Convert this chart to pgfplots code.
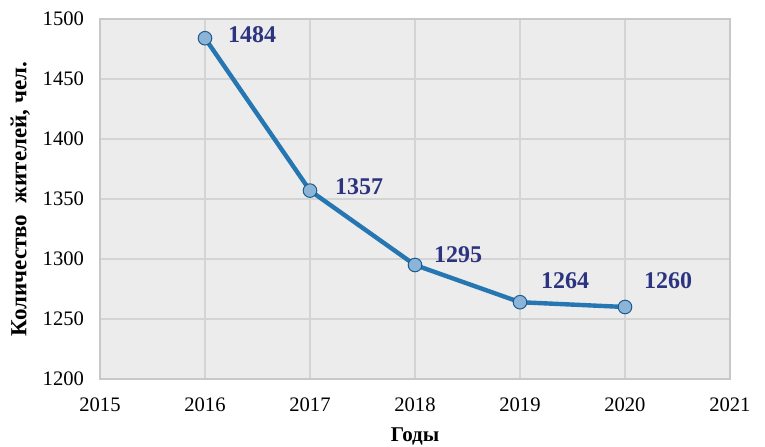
\documentclass[border=0pt]{standalone}
\usepackage{fontspec}
\setmainfont{Liberation Serif}
\usepackage{pgfplots}
\pgfplotsset{compat=1.18}
\definecolor{plotbg}{RGB}{236,236,236}
\definecolor{gridc}{RGB}{212,212,212}
\definecolor{framec}{RGB}{200,200,200}
\definecolor{linec}{RGB}{38,118,178}
\definecolor{markc}{RGB}{140,180,216}
\definecolor{labc}{RGB}{44,52,128}
\begin{document}
\begin{tikzpicture}
\begin{axis}[
    scale only axis,
    width=315pt, height=180pt,
    xmin=2015, xmax=2021,
    ymin=1200, ymax=1500,
    xtick={2015,...,2021},
    ytick={1200,1250,...,1500},
    grid=major,
    major grid style={gridc, line width=0.6pt},
    axis background/.style={fill=plotbg},
    axis line style={framec, line width=0.6pt},
    tick style={draw=none},
    /pgf/number format/assume math mode=true,
    /pgf/number format/1000 sep={},
    ticklabel style={font=\fontsize{10.3}{12}\selectfont, text=black},
    xticklabel style={yshift=-6pt},
    yticklabel style={xshift=-4.5pt},
    xlabel={\textbf{Годы}},
    ylabel={\textbf{Количество\ \ жителей, чел.}},
    xlabel style={font=\fontsize{10.5}{12}\selectfont, yshift=-1pt},
    ylabel style={font=\fontsize{11.5}{13}\selectfont, yshift=-0.5pt},
]
\addplot[linec, line width=2.2pt, mark=*,
    mark options={fill=markc, draw=linec!80!black, line width=0.5pt},
    mark size=3.4pt] coordinates {
    (2016,1484) (2017,1357) (2018,1295) (2019,1264) (2020,1260)
};
\begin{scope}[every node/.style={font=\fontsize{12}{14}\selectfont\bfseries, text=labc, anchor=west}]
\node at (axis cs:2016,1484) [xshift=8pt, yshift=2pt] {1484};
\node at (axis cs:2017,1357) [xshift=9pt, yshift=2pt] {1357};
\node at (axis cs:2018,1295) [xshift=6pt, yshift=5pt] {1295};
\node at (axis cs:2019,1264) [xshift=7pt, yshift=11pt] {1264};
\node at (axis cs:2020,1260) [xshift=6pt, yshift=13pt] {1260};
\end{scope}
\end{axis}
\pgfresetboundingbox
\path[use as bounding box] (-50pt,-33.5pt) rectangle (332.5pt,189.5pt);
\end{tikzpicture}
\end{document}
